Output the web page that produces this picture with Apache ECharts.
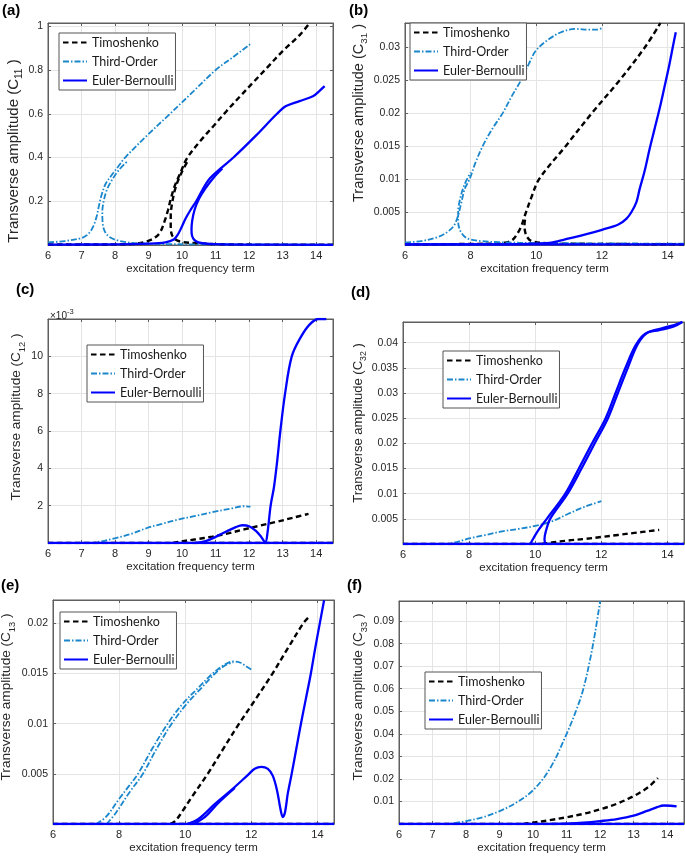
<!DOCTYPE html>
<html><head><meta charset="utf-8">
<script src="https://cdn.jsdelivr.net/npm/echarts@6/dist/echarts.min.js"></script>
<style>html,body{margin:0;padding:0;background:#fff}#c{width:685px;height:856px}</style>
</head><body><div id="c"></div>
<script>
// ---------------- DATA ----------------
const modelNames = ['Timoshenko', 'Third-Order', 'Euler-Bernoulli'];
const panelLabels = ['(a)', '(b)', '(c)', '(d)', '(e)', '(f)'];
const ySubscripts = ['11', '31', '12', '32', '13', '33'];
const xTickStep = [1, 2, 1, 2, 2, 1];
const yTickStep = [0.2, 0.005, 0.002, 0.005, 0.005, 0.01];
const yTop = [1.015, 0.0336, 0.012, 0.0441, 0.02233, 0.0989];
const xRange = [6, 14.5];
const baseline = [[6, 0], [14.5, 0]];

// (a) C11
const a_tim_1 = [[6,0.002],[7,0.002],[8,0.003],[8.6,0.006],[8.95,0.017],[9.2,0.035],[9.35,0.06],[9.48,0.11],[9.58,0.16],[9.66,0.21],[9.78,0.27],[9.95,0.33],[10.14,0.395],[10.54,0.475],[10.93,0.543],[11.33,0.613],[11.73,0.68],[12.13,0.745],[12.53,0.81],[13.02,0.89],[13.52,0.962],[13.8,1.015]];
const a_tim_2 = [[14.5,0.001],[12,0.002],[11,0.004],[10.4,0.008],[10.0,0.014],[9.8,0.025],[9.7,0.045],[9.66,0.08],[9.66,0.13],[9.7,0.19],[9.8,0.26],[9.95,0.32],[10.15,0.38]];
const a_to_1 = [[6,0.012],[6.5,0.018],[7,0.032],[7.2,0.05],[7.35,0.085],[7.45,0.13],[7.52,0.18],[7.6,0.23],[7.72,0.28],[7.9,0.32],[8.1,0.36],[8.3,0.4],[8.95,0.5],[9.64,0.6],[10.32,0.7],[11.0,0.8],[11.5,0.857],[12.03,0.918]];
const a_to_2 = [[14.5,0.002],[12,0.002],[10.5,0.003],[9.5,0.004],[9,0.006],[8.5,0.01],[8.1,0.02],[7.85,0.035],[7.7,0.06],[7.63,0.1],[7.62,0.15],[7.66,0.2],[7.75,0.25],[7.88,0.29],[8.1,0.34],[8.35,0.38]];
const a_eb_1 = [[6,0.002],[8,0.003],[9,0.006],[9.5,0.012],[9.75,0.025],[9.88,0.05],[9.98,0.08],[10.1,0.12],[10.25,0.16],[10.42,0.2],[10.6,0.25],[10.8,0.3],[11.15,0.35],[11.53,0.4],[12.2,0.5],[12.83,0.6],[13.1,0.635],[13.5,0.658],[13.9,0.68],[14.1,0.705],[14.25,0.726]];
const a_eb_2 = [[14.5,0.001],[12,0.002],[11,0.004],[10.6,0.008],[10.4,0.018],[10.3,0.04],[10.28,0.07],[10.3,0.11],[10.37,0.16],[10.5,0.21],[10.7,0.26],[10.95,0.31],[11.2,0.35]];

// (b) C31
const b_tim_1 = [[6,0.0001],[8.5,0.0002],[9.1,0.0004],[9.28,0.0008],[9.42,0.0017],[9.54,0.0028],[9.62,0.004],[9.69,0.005],[9.85,0.0072],[10.09,0.01],[10.9,0.015],[11.7,0.02],[12.55,0.025],[13.32,0.03],[13.78,0.0336]];
const b_tim_2 = [[14.5,0.0001],[11,0.0002],[10.2,0.0003],[9.85,0.0006],[9.72,0.0012],[9.66,0.002],[9.64,0.003],[9.66,0.004]];
const b_to_1 = [[6,0.0004],[6.5,0.0006],[7,0.0012],[7.3,0.002],[7.5,0.003],[7.62,0.0045],[7.72,0.0065],[7.82,0.0085],[7.97,0.01],[8.15,0.0125],[8.37,0.015],[8.65,0.0175],[8.98,0.02],[9.25,0.0225],[9.54,0.025],[9.78,0.0275],[10.0,0.0295],[10.4,0.0312],[10.8,0.0323],[11.2,0.0327],[11.6,0.0326],[11.85,0.0326],[12.03,0.0329]];
const b_to_2 = [[14.5,0.0002],[10,0.0003],[9,0.0004],[8.3,0.0006],[7.9,0.001],[7.7,0.002],[7.62,0.0035],[7.62,0.005],[7.68,0.007],[7.8,0.009],[8.0,0.011]];
const b_eb_1 = [[6,0.0001],[9,0.0001],[10,0.0002],[10.5,0.0004],[11,0.001],[11.5,0.0016],[12,0.0023],[12.5,0.0031],[12.75,0.004],[12.9,0.005],[13.05,0.0065],[13.15,0.0085],[13.3,0.0112],[13.45,0.0145],[13.6,0.0175],[13.75,0.0205],[13.9,0.0238],[14.05,0.0272],[14.18,0.0305],[14.25,0.0322]];
const b_eb_2 = [[14.5,0.0001],[6,0.0001]];

// (c) C12
const c_tim_1 = [[9.72,0],[9.92,0.00007],[10.41,0.0002],[10.9,0.00034],[11.4,0.00053],[11.85,0.00073],[12.35,0.00094],[12.83,0.00114],[13.3,0.00135],[13.77,0.00156]];
const c_to_1 = [[7.25,0],[7.54,0.00007],[7.99,0.00025],[8.5,0.0005],[8.93,0.00079],[9.4,0.00103],[9.92,0.00127],[10.4,0.00145],[10.9,0.00165],[11.5,0.00186],[11.85,0.00197],[12.04,0.00195]];
const c_eb_1 = [[10.4,0],[10.7,0.0001],[11,0.00033],[11.3,0.0006],[11.6,0.00085],[11.8,0.00095],[12.0,0.0009],[12.2,0.00065],[12.35,0.00035],[12.48,0.00003],[12.55,0.0006],[12.64,0.002],[12.74,0.003],[12.83,0.0043],[12.93,0.006],[13.07,0.008],[13.27,0.01],[13.53,0.011],[13.8,0.0117],[14.07,0.012],[14.3,0.012]];

// (d) C32
const d_tim_1 = [[10.2,0],[10.5,0.0003],[11,0.0007],[11.5,0.001],[12,0.0014],[12.5,0.0018],[13,0.0022],[13.5,0.0026],[13.75,0.0028]];
const d_to_1 = [[7.2,0],[7.5,0.0002],[8,0.0011],[8.5,0.0018],[9,0.0025],[9.5,0.003],[10,0.0036],[10.5,0.0045],[11,0.006],[11.5,0.0074],[12.0,0.0085]];
const d_eb_1 = [[9.85,0],[9.95,0.0012],[10.1,0.0028],[10.35,0.005],[10.91,0.01],[11.32,0.015],[11.72,0.02],[12.13,0.025],[12.43,0.03],[12.73,0.035],[13.04,0.0395],[13.34,0.0418],[13.75,0.0425],[14.15,0.0431],[14.45,0.0441]];
const d_eb_2 = [[10.3,0],[10.28,0.001],[10.32,0.0025],[10.45,0.005],[10.98,0.01],[11.4,0.015],[11.8,0.02],[12.2,0.025],[12.5,0.03],[12.8,0.035],[13.1,0.0397],[13.4,0.042],[13.8,0.0428],[14.2,0.0435],[14.45,0.0441]];

// (e) C13
const e_tim_1 = [[9.55,0],[9.7,0.0003],[9.9,0.0012],[10.2,0.0027],[10.68,0.005],[11.15,0.0075],[11.63,0.01],[12.14,0.0125],[12.64,0.015],[13.1,0.0175],[13.57,0.02],[13.73,0.0206]];
const e_to_1 = [[7.3,0],[7.6,0.0007],[8.0,0.0025],[8.3,0.0038],[8.57,0.005],[9.0,0.0075],[9.47,0.01],[9.9,0.0119],[10.4,0.0136],[10.83,0.015],[11.15,0.0158],[11.43,0.0162],[11.65,0.0161],[11.85,0.0157],[12.04,0.0153]];
const e_to_2 = [[7.62,0],[7.9,0.0011],[8.3,0.0031],[8.7,0.0049],[9.1,0.0073],[9.55,0.0098],[10.0,0.0118],[10.5,0.0136],[10.9,0.015],[11.2,0.0158],[11.45,0.0161]];
const e_eb_1 = [[10.05,0],[10.4,0.0005],[10.9,0.002],[11.4,0.0034],[11.9,0.0049],[12.1,0.0055],[12.3,0.0057],[12.5,0.0055],[12.65,0.0048],[12.78,0.0033],[12.88,0.0015],[12.95,0.0007],[13.02,0.0012],[13.1,0.003],[13.22,0.005],[13.36,0.0075],[13.5,0.01],[13.65,0.0125],[13.8,0.015],[13.93,0.0175],[14.07,0.02],[14.2,0.0223]];
const e_eb_2 = [[10.25,0],[10.6,0.0007],[11.0,0.0021],[11.5,0.0036]];

// (f) C33
const f_tim_1 = [[9.7,0],[10,0.0006],[10.5,0.0017],[11,0.003],[11.5,0.0045],[12,0.0065],[12.5,0.009],[13,0.0124],[13.3,0.015],[13.5,0.0172],[13.72,0.0204]];
const f_to_1 = [[7.3,0],[7.6,0.0003],[8,0.0013],[8.5,0.003],[9,0.0057],[9.5,0.0095],[10,0.015],[10.5,0.0245],[11,0.04],[11.3,0.051],[11.5,0.06],[11.7,0.073],[11.85,0.085],[12.0,0.099]];
const f_eb_1 = [[10.5,0],[11,0.0002],[11.5,0.0006],[12,0.0013],[12.5,0.0022],[13,0.0037],[13.4,0.0058],[13.7,0.0075],[13.9,0.0082],[14.1,0.0081],[14.28,0.0078]];

const panelBranches = [
  [[a_tim_1, a_tim_2], [a_to_1, a_to_2], [a_eb_1, a_eb_2]],
  [[b_tim_1, b_tim_2], [b_to_1, b_to_2], [b_eb_1, b_eb_2]],
  [[baseline, c_tim_1], [baseline, c_to_1], [baseline, c_eb_1]],
  [[baseline, d_tim_1], [baseline, d_to_1], [baseline, d_eb_1, d_eb_2]],
  [[baseline, e_tim_1], [baseline, e_to_1, e_to_2], [baseline, e_eb_1, e_eb_2]],
  [[baseline, f_tim_1], [baseline, f_to_1], [baseline, f_eb_1]]
];

// ---------------- LAYOUT / STYLE ----------------
const W = 685, H = 856;
const boxes = [ // [left, top, rightEdge, bottomEdge] in px
  [48, 23, 333, 245], [405, 23, 684, 245],
  [48, 319, 333, 543], [403, 322, 684, 544],
  [53, 600, 334, 824], [399, 601, 684, 824]
];
const legendPos = [[59, 33], [410, 23], [87, 345], [443, 351], [60, 612], [425, 672]];
const labelPos = [[2, 3], [349, 3], [16, 282], [351, 285], [1, 578], [347, 578]];
const yNamePos = [[15, 151], [360, 113], [18, 417], [360, 423], [8, 697], [360, 697]];
const yNameSize = [15.0, 14.5, 13.6, 13.0, 13.6, 13.6];
const modelStyle = [
  {color: '#000000', width: 2.4, type: [5.5, 3.5]},
  {color: '#1a87cc', width: 1.8, type: [6, 2, 1.5, 2]},
  {color: '#0000ff', width: 2.3, type: 'solid'}
];
const TF = "'Liberation Sans', Arial, Helvetica, sans-serif";
const TXT = '#262626';
const AX = '#5f5f5f';

const grid = [], xAxis = [], yAxis = [], series = [], legend = [], graphic = [];
boxes.forEach((b, i) => {
  grid.push({left: b[0], top: b[1], right: W - b[2], bottom: H - b[3], show: true,
    borderColor: AX, borderWidth: 1, backgroundColor: '#fff'});
  const common = {type: 'value', gridIndex: i};
  xAxis.push(Object.assign({}, common, {
    min: xRange[0], max: xRange[1], interval: xTickStep[i], position: 'bottom',
    name: 'excitation frequency term', nameLocation: 'middle', nameGap: 18,
    nameTextStyle: {fontFamily: TF, fontSize: 11.5, color: TXT},
    axisLine: {show: true, onZero: false, lineStyle: {color: AX, width: 1}},
    axisTick: {show: true, inside: true, length: 3, lineStyle: {color: AX}},
    axisLabel: {show: true, fontFamily: TF, fontSize: 11, color: TXT, margin: 5, showMaxLabel: false},
    splitLine: {show: true, lineStyle: {color: '#e4e4e4', width: 1}}
  }));
  xAxis.push(Object.assign({}, common, {
    min: xRange[0], max: xRange[1], interval: xTickStep[i], position: 'top',
    axisLine: {show: true, onZero: false, lineStyle: {color: AX, width: 1}},
    axisTick: {show: true, inside: true, length: 3, lineStyle: {color: AX}},
    axisLabel: {show: false}, splitLine: {show: false}
  }));
  const isC = i === 2;
  yAxis.push(Object.assign({}, common, {
    min: 0, max: yTop[i], interval: yTickStep[i], position: 'left',
    axisLine: {show: true, onZero: false, lineStyle: {color: AX, width: 1}},
    axisTick: {show: true, inside: true, length: 3, lineStyle: {color: AX}},
    axisLabel: {show: true, fontFamily: TF, fontSize: 10.5, color: TXT, margin: 5,
      showMinLabel: false, showMaxLabel: false,
      formatter: isC ? (v => String(Math.round(v * 1000))) : (v => String(+v.toFixed(4)))},
    splitLine: {show: true, lineStyle: {color: '#e4e4e4', width: 1}}
  }));
  yAxis.push(Object.assign({}, common, {
    min: 0, max: yTop[i], interval: yTickStep[i], position: 'right',
    axisLine: {show: true, onZero: false, lineStyle: {color: AX, width: 1}},
    axisTick: {show: true, inside: true, length: 3, lineStyle: {color: AX}},
    axisLabel: {show: false}, splitLine: {show: false}
  }));

  panelBranches[i].forEach((branches, m) => {
    branches.forEach(data => {
      series.push({
        type: 'line', name: modelNames[m], xAxisIndex: 2 * i, yAxisIndex: 2 * i,
        data: data, symbol: 'none', showSymbol: false, silent: true, animation: false,
        clip: true, z: 2 + m, smooth: 0.35,
        lineStyle: {color: modelStyle[m].color, width: modelStyle[m].width, type: modelStyle[m].type},
        itemStyle: {color: modelStyle[m].color}
      });
    });
  });

  legend.push({
    orient: 'vertical', left: legendPos[i][0], top: legendPos[i][1],
    data: modelNames, selectedMode: false, itemWidth: 24, itemHeight: 10, itemGap: 6,
    padding: [3, 2, 3, 3], borderColor: '#555', borderWidth: 1, backgroundColor: '#fff',
    itemStyle: {color: 'rgba(0,0,0,0)', borderWidth: 0, opacity: 0},
    textStyle: {fontFamily: 'Lato, sans-serif', fontSize: 12.5, color: '#1a1a1a'},
    z: 10
  });

  graphic.push({type: 'text', left: labelPos[i][0], top: labelPos[i][1], z: 20,
    style: {text: panelLabels[i], font: 'bold 15px ' + TF, fill: '#000'}});

  const fs = yNameSize[i];
  graphic.push({type: 'text', x: yNamePos[i][0], y: yNamePos[i][1], rotation: Math.PI / 2, z: 20,
    style: {
      text: '{n|Transverse amplitude (C}{s|' + ySubscripts[i] + '}{n| )}',
      align: 'center', verticalAlign: 'middle',
      rich: {
        n: {fontFamily: TF, fontSize: fs, fill: TXT, verticalAlign: 'bottom', padding: [0, 0, 3, 0]},
        s: {fontFamily: TF, fontSize: fs * 0.68, fill: TXT, verticalAlign: 'bottom'}
      }
    }});
});

graphic.push({type: 'text', left: 50, top: 308, z: 20,
  style: {text: '{a|×10}{b|-3}', rich: {
    a: {fontFamily: TF, fontSize: 10, fill: TXT, verticalAlign: 'bottom'},
    b: {fontFamily: TF, fontSize: 7.5, fill: TXT, verticalAlign: 'bottom', padding: [0, 0, 5, 0]}
  }}});

const chart = echarts.init(document.getElementById('c'), null, {renderer: 'canvas'});
chart.setOption({animation: false, backgroundColor: '#fff', grid, xAxis, yAxis, series, legend, graphic});
</script></body></html>
